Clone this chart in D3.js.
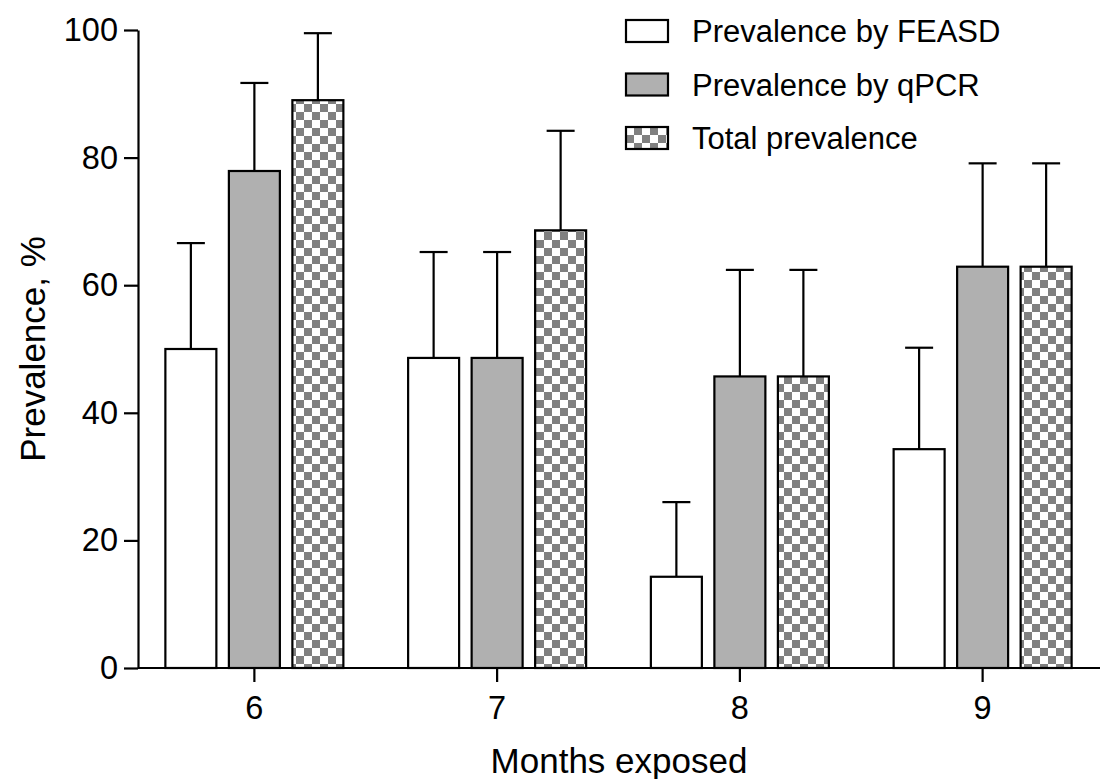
<!DOCTYPE html>
<html>
<head>
<meta charset="utf-8">
<script src="https://cdn.jsdelivr.net/npm/d3@7"></script>
<style>
	body { margin: 0; background: #fff; }
	text { font-family: "Liberation Sans", Arial, sans-serif; fill: #000; }
</style>
</head>
<body>
<svg id="chart" width="1104" height="779"></svg>
<script>
const months = ['6', '7', '8', '9'];
const seriesNames = ['Prevalence by FEASD', 'Prevalence by qPCR', 'Total prevalence'];
const feasd = [50.0, 48.6, 14.3, 34.3];
const qpcr = [77.9, 48.6, 45.7, 62.9];
const total = [89.0, 68.6, 45.7, 62.9];
const feasdUpper = [66.6, 65.2, 26.0, 50.2];
const qpcrUpper = [91.7, 65.2, 62.4, 79.1];
const totalUpper = [99.5, 84.2, 62.4, 79.1];
const yTicks = [0, 20, 40, 60, 80, 100];

const values = [feasd, qpcr, total];
const uppers = [feasdUpper, qpcrUpper, totalUpper];

const svg = d3.select('#chart');

// checkerboard pattern
const defs = svg.append('defs');
const pat = defs.append('pattern')
	.attr('id', 'checker')
	.attr('patternUnits', 'userSpaceOnUse')
	.attr('width', 16)
	.attr('height', 16);
pat.append('rect').attr('width', 16).attr('height', 16).attr('fill', '#fff');
pat.append('rect').attr('x', 8).attr('y', 0).attr('width', 8).attr('height', 8).attr('fill', '#808080');
pat.append('rect').attr('x', 0).attr('y', 8).attr('width', 8).attr('height', 8).attr('fill', '#808080');

const fills = ['#ffffff', '#b0b0b0', 'url(#checker)'];

const plotLeft = 138, plotRight = 1100, plotTop = 30, plotBottom = 668;

let y = d3.scaleLinear()
	.domain([0, 100])
	.range([plotBottom, plotTop]);

let x = d3.scaleBand()
	.domain(months)
	.range([133, 1104]);

let xs = d3.scaleBand()
	.domain(d3.range(3))
	.range([-89, 89])
	.paddingInner(0.197);

// Y axis
const yAxis = svg.append('g')
	.attr('transform', `translate(${plotLeft},0)`)
	.call(d3.axisLeft(y).tickValues(yTicks).tickSize(14).tickPadding(6).tickSizeOuter(0));
yAxis.select('.domain').attr('stroke-width', 2.2);
yAxis.selectAll('.tick line').attr('stroke-width', 2.2);
yAxis.selectAll('.tick text').attr('font-size', 32.5).attr('font-family', '"Liberation Sans", Arial, sans-serif').attr('fill', '#000');

// X axis
const xAxis = svg.append('g')
	.attr('transform', `translate(0,${plotBottom})`)
	.call(d3.axisBottom(x).tickSize(14).tickPadding(14).tickSizeOuter(0));
xAxis.select('.domain').attr('d', `M${plotLeft},0H${plotRight}`).attr('stroke-width', 2.2);
xAxis.selectAll('.tick line').attr('stroke-width', 2.2);
xAxis.selectAll('.tick text').attr('font-size', 32.5).attr('font-family', '"Liberation Sans", Arial, sans-serif').attr('fill', '#000');

// bars
const rows = [];
months.forEach((m, i) => {
	values.forEach((vals, s) => {
		rows.push({month: m, s: s, v: vals[i], up: uppers[s][i]});
	});
});

const barX = d => x(d.month) + x.bandwidth() / 2 + xs(d.s);
const barMid = d => barX(d) + xs.bandwidth() / 2;

const g = svg.append('g');

// error bars (upper only)
g.selectAll('line.err')
	.data(rows)
	.enter()
	.append('line')
	.attr('class', 'err')
	.attr('x1', barMid)
	.attr('x2', barMid)
	.attr('y1', d => y(d.v))
	.attr('y2', d => y(d.up))
	.attr('stroke', '#000')
	.attr('stroke-width', 2.2);

g.selectAll('line.cap')
	.data(rows)
	.enter()
	.append('line')
	.attr('class', 'cap')
	.attr('x1', d => barMid(d) - 14)
	.attr('x2', d => barMid(d) + 14)
	.attr('y1', d => y(d.up))
	.attr('y2', d => y(d.up))
	.attr('stroke', '#000')
	.attr('stroke-width', 2.2);

g.selectAll('rect.bar')
	.data(rows)
	.enter()
	.append('rect')
	.attr('class', 'bar')
	.attr('x', barX)
	.attr('y', d => y(d.v))
	.attr('width', xs.bandwidth())
	.attr('height', d => y(0) - y(d.v))
	.attr('fill', d => fills[d.s])
	.attr('stroke', '#000')
	.attr('stroke-width', 2.2);

// legend
const legend = svg.append('g')
	.attr('transform', 'translate(626,20)');
const item = legend.selectAll('g')
	.data(seriesNames)
	.enter()
	.append('g')
	.attr('transform', (d, i) => `translate(0,${i * 53.5})`);
item.append('rect')
	.attr('width', 42)
	.attr('height', 22)
	.attr('fill', (d, i) => fills[i])
	.attr('stroke', '#000')
	.attr('stroke-width', 2.2);
item.append('text')
	.attr('x', 66)
	.attr('y', 11)
	.attr('dy', '0.36em')
	.attr('font-size', 31)
	.text(d => d);

// axis titles
svg.append('text')
	.attr('x', (plotLeft + plotRight) / 2)
	.attr('y', 773)
	.attr('text-anchor', 'middle')
	.attr('font-size', 35)
	.text('Months exposed');

svg.append('text')
	.attr('transform', `translate(45,${(plotTop + plotBottom) / 2}) rotate(-90)`)
	.attr('text-anchor', 'middle')
	.attr('font-size', 35)
	.text('Prevalence, %');
</script>
</body>
</html>
